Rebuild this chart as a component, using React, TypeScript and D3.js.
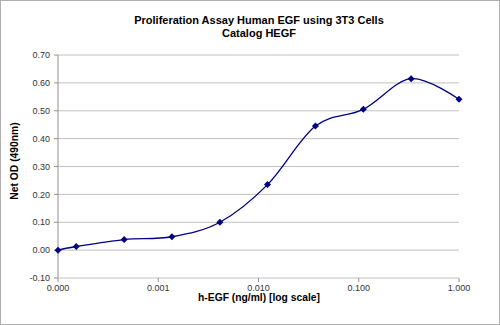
import React from "react";
import * as d3 from "d3";

const concentrations = [0.0001, 0.000152, 0.000457, 0.00137, 0.00412, 0.0123, 0.037, 0.111, 0.333, 1];
const netOD = [0.0, 0.013, 0.038, 0.048, 0.1, 0.235, 0.445, 0.505, 0.615, 0.541];
const xTicks = [0.0001, 0.001, 0.01, 0.1, 1];
const yTicks = [-0.1, 0, 0.1, 0.2, 0.3, 0.4, 0.5, 0.6, 0.7];
const titleLines = ["Proliferation Assay Human EGF using 3T3 Cells", "Catalog HEGF"];
const xLabel = "h-EGF (ng/ml) [log scale]";
const yLabel = "Net OD (490nm)";

const W = 500, H = 325;
const left = 58, right = 459, top = 55, bottom = 278;

export default function App() {
  const x = d3.scaleLog().domain([0.0001, 1]).range([left, right]);
  const y = d3.scaleLinear().domain([-0.1, 0.7]).range([bottom, top]);
  const pts: [number, number][] = concentrations.map((c, i) => [x(c), y(netOD[i])]);
  const line = d3.line().curve(d3.curveCardinal.tension(0))(pts) || "";
  const font = "'Liberation Sans', Arial, sans-serif";
  return (
    <svg width={W} height={H} style={{ position: "absolute", left: 0, top: 0 }} fontFamily={font}>
      <rect x={0.5} y={0.5} width={W - 1} height={H - 1} fill="#fff" stroke="#b0b0b0" />
      {yTicks.filter((t) => t > -0.1).map((t) => (
        <line key={"g" + t} x1={left} x2={right} y1={y(t)} y2={y(t)} stroke="#c0c0c0" strokeWidth={1} />
      ))}
      <line x1={left} x2={left} y1={top} y2={bottom} stroke="#909090" />
      <line x1={left} x2={right} y1={bottom} y2={bottom} stroke="#c0c0c0" />
      {yTicks.map((t) => (
        <g key={"y" + t}>
          <line x1={left - 4} x2={left} y1={y(t)} y2={y(t)} stroke="#909090" />
          <text x={left - 8} y={y(t)} dy="0.35em" textAnchor="end" fontSize={9} fill="#333">
            {t.toFixed(2)}
          </text>
        </g>
      ))}
      {xTicks.map((t) => (
        <g key={"x" + t}>
          <line x1={x(t)} x2={x(t)} y1={bottom} y2={bottom + 4} stroke="#909090" />
          <text x={x(t)} y={bottom + 13} textAnchor="middle" fontSize={9} fill="#333">
            {t.toFixed(3)}
          </text>
        </g>
      ))}
      <path d={line} fill="none" stroke="#000080" strokeWidth={1.3} />
      {pts.map(([px, py], i) => (
        <path key={"m" + i} d={`M${px},${py - 3.5}L${px + 3.5},${py}L${px},${py + 3.5}L${px - 3.5},${py}Z`} fill="#000080" />
      ))}
      {titleLines.map((s, i) => (
        <text key={"t" + i} x={259} y={24 + i * 13} textAnchor="middle" fontSize={11} fontWeight="bold" fill="#000">
          {s}
        </text>
      ))}
      <text x={259} y={301} textAnchor="middle" fontSize={10.3} fontWeight="bold">{xLabel}</text>
      <text transform={`translate(18,161) rotate(-90)`} textAnchor="middle" fontSize={10.3} fontWeight="bold">
        {yLabel}
      </text>
    </svg>
  );
}
